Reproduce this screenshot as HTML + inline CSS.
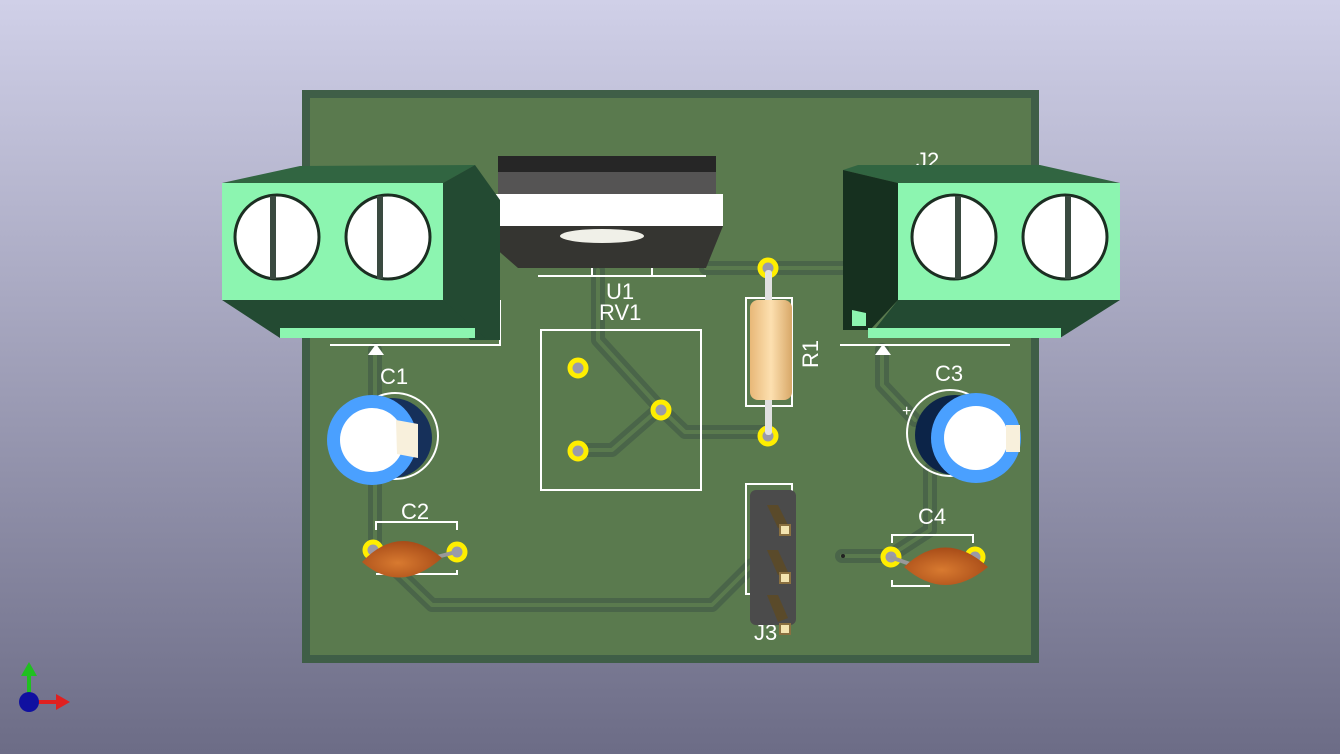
<!DOCTYPE html>
<html><head><meta charset="utf-8"><style>
html,body{margin:0;padding:0;width:1340px;height:754px;overflow:hidden}
svg{display:block}
text{font-family:"Liberation Sans",sans-serif;fill:#fff}
</style></head><body>
<svg width="1340" height="754" viewBox="0 0 1340 754" xmlns="http://www.w3.org/2000/svg">
<defs>
<linearGradient id="bg" x1="0" y1="0" x2="0" y2="1">
<stop offset="0" stop-color="#d0d0e8"/><stop offset="1" stop-color="#6c6c86"/></linearGradient>
<radialGradient id="cer" cx="0.45" cy="0.6" r="0.6"><stop offset="0" stop-color="#d87a30"/><stop offset="1" stop-color="#a84c18"/></radialGradient>
<linearGradient id="res" x1="0" y1="0" x2="1" y2="0"><stop offset="0" stop-color="#e8b878"/><stop offset="0.5" stop-color="#fde0b0"/><stop offset="1" stop-color="#d8a868"/></linearGradient>
</defs>
<rect width="1340" height="754" fill="url(#bg)"/>
<!-- board -->
<rect x="302" y="90" width="737" height="573" fill="#3f5e47"/>
<rect x="310" y="98" width="721" height="557" fill="#5a7a4e"/>
<!-- traces -->
<g fill="none" stroke-linejoin="round" stroke-linecap="round">
<g stroke="#4a6549" stroke-width="14">
<path d="M375 350 L375 430"/>
<path d="M375 470 L375 550 L432 605 L712 605 L752 565"/>
<path d="M598 270 L598 340 L660 408 L685 432 L768 432"/>
<path d="M578 450 L612 450 L660 408"/>
<path d="M706 268 L768 268 L845 268"/>
<path d="M882 350 L882 385 L915 420"/>
<path d="M930 470 L930 530 L890 556 L842 556"/>
</g>
<g stroke="#5a7a4e" stroke-width="4">
<path d="M375 350 L375 430"/>
<path d="M375 470 L375 550 L432 605 L712 605 L752 565"/>
<path d="M598 270 L598 340 L660 408 L685 432 L768 432"/>
<path d="M578 450 L612 450 L660 408"/>
<path d="M706 268 L768 268 L845 268"/>
<path d="M882 350 L882 385 L915 420"/>
<path d="M930 470 L930 530 L890 556 L842 556"/>
</g>
</g>
<!-- silkscreen -->
<g fill="none" stroke="#fff" stroke-width="2">
<rect x="541" y="330" width="160" height="160"/>
<rect x="746" y="298" width="46" height="108"/>
<rect x="746" y="484" width="46" height="110"/>
<path d="M376 530 L376 522 L457 522 L457 530 M457 570 L457 574 L376 574"/>
<path d="M892 543 L892 535 L973 535 L973 543 M892 580 L892 586 L930 586"/>
<path d="M330 345 L500 345 L500 300"/>
<path d="M840 345 L1010 345"/>
<path d="M538 276 L706 276 M592 268 L592 276 M652 268 L652 276"/>
</g>
<polygon points="368,355 376,344 384,355" fill="#fff"/>
<polygon points="875,355 883,344 891,355" fill="#fff"/>
<text x="380" y="384" font-size="22">C1</text>
<text x="401" y="519" font-size="22">C2</text>
<text x="935" y="381" font-size="22">C3</text>
<text x="918" y="524" font-size="22">C4</text>
<text x="606" y="299" font-size="22">U1</text>
<text x="599" y="320" font-size="22">RV1</text>
<text x="818" y="368" font-size="22" transform="rotate(-90 818 368)">R1</text>
<text x="754" y="640" font-size="22">J3</text>
<text x="916" y="168" font-size="22">J2</text>
<!-- pads -->
<g fill="#9a9aa8" stroke="#ffee00" stroke-width="5">
<circle cx="578" cy="368" r="8"/><circle cx="661" cy="410" r="8"/><circle cx="578" cy="451" r="8"/>
<circle cx="768" cy="268" r="8"/><circle cx="768" cy="436" r="8"/>
<circle cx="373" cy="550" r="8"/><circle cx="457" cy="552" r="8"/>
<circle cx="891" cy="557" r="8"/><circle cx="975" cy="557" r="8"/>
</g>
<circle cx="843" cy="556" r="2" fill="#222"/>
<!-- resistor -->
<rect x="765" y="270" width="7" height="165" rx="3" fill="#e0e0e0"/>
<rect x="750" y="300" width="42" height="100" rx="8" fill="url(#res)"/>
<!-- header J3 -->
<rect x="750" y="490" width="46" height="135" rx="6" fill="#4b4b4b"/>
<g fill="#5a4a2a"><polygon points="767,505 778,505 788,525 778,528"/><polygon points="767,550 778,550 788,572 778,575"/><polygon points="767,595 778,595 788,618 778,622"/></g>
<g fill="#f3e4b0" stroke="#8a7040" stroke-width="2"><rect x="780" y="525" width="10" height="10"/><rect x="780" y="573" width="10" height="10"/><rect x="780" y="624" width="10" height="10"/></g>
<!-- ceramic caps -->
<line x1="452" y1="553" x2="437" y2="557" stroke="#999" stroke-width="4"/>
<path d="M362 562 Q400 522 442 558 Q400 595 362 562Z" fill="url(#cer)"/>
<line x1="890" y1="557" x2="910" y2="564" stroke="#999" stroke-width="4"/>
<path d="M904 567 Q945 528 988 567 Q945 603 904 567Z" fill="url(#cer)"/>
<!-- electrolytic C1 -->
<circle cx="395" cy="436" r="43" fill="none" stroke="#fff" stroke-width="2"/>
<circle cx="392" cy="438" r="40" fill="#16305a"/>
<circle cx="372" cy="440" r="45" fill="#4aa0ff"/>
<circle cx="372" cy="440" r="32" fill="#fff"/>
<path d="M396 420 L418 424 L418 458 L397 454Z" fill="#f8f0dc"/>
<!-- electrolytic C3 -->
<circle cx="950" cy="433" r="43" fill="none" stroke="#fff" stroke-width="2"/>
<circle cx="955" cy="435" r="40" fill="#0c2448"/>
<circle cx="976" cy="438" r="45" fill="#4aa0ff"/>
<circle cx="976" cy="438" r="32" fill="#fff"/>
<path d="M1006 425 L1020 425 L1020 452 L1006 452Z" fill="#f8f0dc"/>
<text x="902" y="416" font-size="16">+</text>
<!-- U1 -->
<rect x="498" y="156" width="218" height="16" fill="#262626"/>
<rect x="498" y="172" width="218" height="22" fill="#555454"/>
<rect x="470" y="194" width="253" height="32" fill="#fff"/>
<polygon points="470,226 723,226 706,268 518,268" fill="#353531"/>
<ellipse cx="602" cy="236" rx="42" ry="7" fill="#f0f0e8"/>
<!-- left terminal -->
<polygon points="222,183 300,166 475,165 443,183" fill="#316541"/>
<polygon points="443,183 475,165 500,200 500,340 470,340 443,300" fill="#234a32"/>
<polygon points="222,300 443,300 485,338 280,338" fill="#234a32"/>
<rect x="280" y="328" width="195" height="10" fill="#8cf5b0"/>
<rect x="222" y="183" width="221" height="117" fill="#8cf5b0"/>
<!-- right terminal -->
<polygon points="843,170 858,165 1040,165 1120,183 898,183" fill="#316541"/>
<polygon points="843,170 898,183 898,300 870,330 843,330" fill="#16301f"/>
<polygon points="898,300 1120,300 1060,338 868,338" fill="#234a32"/>
<rect x="868" y="328" width="193" height="10" fill="#8cf5b0"/>
<rect x="898" y="183" width="222" height="117" fill="#8cf5b0"/>
<polygon points="852,310 866,313 866,326 852,326" fill="#8cf5b0"/>
<!-- screws -->
<g stroke="#1c2e22" stroke-width="3" fill="#fff">
<circle cx="277" cy="237" r="42"/><circle cx="388" cy="237" r="42"/>
<circle cx="954" cy="237" r="42"/><circle cx="1065" cy="237" r="42"/>
</g>
<g fill="#3a4a40">
<rect x="270" y="196" width="6" height="83"/><rect x="377" y="196" width="6" height="83"/>
<rect x="955" y="196" width="6" height="83"/><rect x="1065" y="196" width="6" height="83"/>
</g>
<!-- axis -->
<line x1="29" y1="702" x2="60" y2="702" stroke="#e02020" stroke-width="4"/>
<polygon points="56,694 70,702 56,710" fill="#e02020"/>
<line x1="29" y1="702" x2="29" y2="672" stroke="#20c020" stroke-width="4"/>
<polygon points="21,676 29,662 37,676" fill="#20c020"/>
<circle cx="29" cy="702" r="10" fill="#1010a0"/>
</svg>
</body></html>
